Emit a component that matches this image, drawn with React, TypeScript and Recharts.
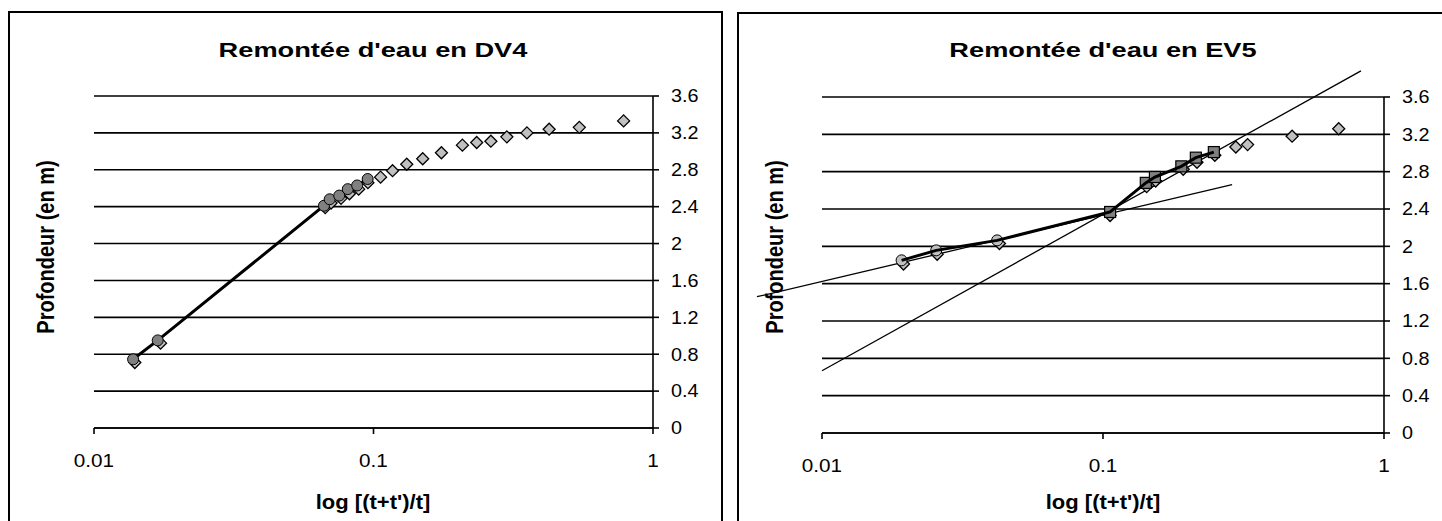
import React from 'react';
import { ScatterChart, Scatter, XAxis, YAxis, CartesianGrid, ReferenceLine } from 'recharts';

const FONT = '"Liberation Sans", Arial, sans-serif';

type Pt = [number, number];

// log [(t+t')/t] , profondeur (m)
const dv4Mesures: Pt[] = [
  [0.014, 0.71], [0.0173, 0.92],
  [0.0672, 2.39], [0.0705, 2.44], [0.0765, 2.49], [0.082, 2.54], [0.0885, 2.59], [0.0955, 2.66],
  [0.106, 2.72], [0.117, 2.79], [0.1315, 2.86], [0.15, 2.92], [0.175, 2.985], [0.208, 3.067],
  [0.234, 3.096], [0.263, 3.11], [0.3, 3.157], [0.354, 3.2], [0.425, 3.24], [0.545, 3.26], [0.785, 3.33],
];
const dv4Calcul: Pt[] = [
  [0.0138, 0.745], [0.0169, 0.95], [0.0665, 2.41], [0.0697, 2.48], [0.0754, 2.52],
  [0.0809, 2.59], [0.0874, 2.63], [0.0953, 2.7],
];

const ev5Mesures: Pt[] = [
  [0.0195, 1.81], [0.0257, 1.915], [0.0428, 2.03], [0.106, 2.33], [0.143, 2.64], [0.154, 2.7],
  [0.193, 2.825], [0.216, 2.9], [0.25, 2.975], [0.297, 3.064], [0.327, 3.09], [0.471, 3.18], [0.69, 3.26],
];
const ev5Debut: Pt[] = [[0.0192, 1.85], [0.0255, 1.957], [0.042, 2.064]];
const ev5Fin: Pt[] = [[0.106, 2.368], [0.142, 2.68], [0.153, 2.743], [0.19, 2.857], [0.214, 2.95], [0.248, 3.01]];
const ev5Droite1: Pt[] = [[0.00587, 1.46], [0.288, 2.66]];
const ev5Droite2: Pt[] = [[0.01, 0.667], [0.828, 3.88]];

const xTicks = [0.01, 0.1, 1];
const yTicks = [0, 0.4, 0.8, 1.2, 1.6, 2, 2.4, 2.8, 3.2, 3.6];

const toXY = (pts: Pt[]) => pts.map(([x, y]) => ({ x, y }));

const Losange = ({ cx, cy }: any) => (
  <polygon
    points={`${cx},${cy - 6} ${cx + 6},${cy} ${cx},${cy + 6} ${cx - 6},${cy}`}
    fill="#c0c0c0" stroke="#000" strokeWidth={1.3}
  />
);
const Rond = (fill: string) => ({ cx, cy }: any) => (
  <circle cx={cx} cy={cy} r={5.5} fill={fill} stroke="#000" strokeWidth={1} />
);
const Carre = ({ cx, cy }: any) => (
  <rect x={cx - 5.5} y={cy - 5.5} width={11} height={11} fill="#808080" stroke="#000" strokeWidth={1.2} />
);
const Rien = () => <g />;

// tick labels are drawn a little wider than the plain font
const stretch = (x: number, k: number) => `translate(${x} 0) scale(${k} 1) translate(${-x} 0)`;
const TickX = ({ x, y, payload }: any) => (
  <text x={x} y={y} dy="0.71em" textAnchor="middle" fontSize={18} fontFamily={FONT} fill="#000" transform={stretch(x, 1.15)}>
    {String(payload.value)}
  </text>
);
const TickY = ({ x, y, payload }: any) => (
  <text x={x} y={y} dy="0.355em" textAnchor="start" fontSize={18} fontFamily={FONT} fill="#000" transform={stretch(x, 1.1)}>
    {String(payload.value)}
  </text>
);

const text = (size: number): React.CSSProperties => ({
  position: 'absolute', fontFamily: FONT, fontWeight: 'bold', fontSize: size, whiteSpace: 'nowrap', color: '#000',
});

function Graph({ children, left, top, plot }: any) {
  // plot = [x0, y0, x1, y1] in chart coordinates
  const W = 710, H = 520;
  return (
    <div style={{ position: 'absolute', left, top }}>
      <ScatterChart width={W} height={H} margin={{ left: plot[0], top: plot[1], right: 0, bottom: H - plot[3] - 30 }}>
        <CartesianGrid vertical={false} stroke="#000" strokeWidth={1.6} />
        <XAxis type="number" dataKey="x" scale="log" domain={[0.01, 1]} allowDataOverflow ticks={xTicks} interval={0}
          tick={TickX} tickLine={{ stroke: '#000', strokeWidth: 1.6 }}
          axisLine={{ stroke: '#000', strokeWidth: 1.6 }} tickSize={6} tickMargin={20} height={30} />
        <YAxis type="number" dataKey="y" orientation="right" domain={[0, 3.6]} ticks={yTicks} interval={0}
          tick={TickY} tickLine={{ stroke: '#000', strokeWidth: 1.6 }} axisLine={{ stroke: '#000', strokeWidth: 1.6 }}
          tickSize={6} tickMargin={12} width={W - plot[2]} />
        {children}
      </ScatterChart>
    </div>
  );
}

export default function App() {
  return (
    <div style={{ position: 'absolute', left: 0, top: 0, width: 1442, height: 521, overflow: 'hidden', background: '#fff' }}>
      <div style={{ position: 'absolute', left: 8, top: 11, width: 715, height: 540, border: '2px solid #000', boxSizing: 'border-box' }} />
      <div style={{ position: 'absolute', left: 737, top: 12, width: 720, height: 540, border: '2px solid #000', boxSizing: 'border-box' }} />

      <Graph left={10} top={13} plot={[84, 83, 643, 415]}>
        <Scatter data={toXY(dv4Mesures)} shape={Losange} isAnimationActive={false} />
        <Scatter data={toXY(dv4Calcul)} shape={Rond('#808080')} line={{ stroke: '#000', strokeWidth: 3 }} isAnimationActive={false} />
      </Graph>

      <Graph left={739} top={14} plot={[83, 83, 645, 419]}>
        <ReferenceLine segment={toXY(ev5Droite1)} stroke="#000" strokeWidth={1.3} ifOverflow="visible" />
        <ReferenceLine segment={toXY(ev5Droite2)} stroke="#000" strokeWidth={1.3} ifOverflow="visible" />
        <Scatter data={toXY(ev5Mesures)} shape={Losange} isAnimationActive={false} />
        <Scatter data={toXY(ev5Debut)} shape={Rond('#c0c0c0')} isAnimationActive={false} />
        <Scatter data={toXY(ev5Fin)} shape={Carre} isAnimationActive={false} />
        <Scatter data={toXY([...ev5Debut, ...ev5Fin])} shape={Rien} line={{ stroke: '#000', strokeWidth: 3 }} isAnimationActive={false} />
      </Graph>

      <div style={{ ...text(20), left: 373, top: 50, transform: 'translate(-50%, -50%) scaleX(1.36)' }}>Remontée d'eau en DV4</div>
      <div style={{ ...text(20), left: 1103, top: 50, transform: 'translate(-50%, -50%) scaleX(1.36)' }}>Remontée d'eau en EV5</div>
      <div style={{ ...text(20), left: 46, top: 247, transform: 'translate(-50%, -50%) rotate(-90deg) scaleY(1.2)' }}>Profondeur (en m)</div>
      <div style={{ ...text(20), left: 775, top: 247, transform: 'translate(-50%, -50%) rotate(-90deg) scaleY(1.2)' }}>Profondeur (en m)</div>
      <div style={{ ...text(20), left: 373, top: 502, transform: 'translate(-50%, -50%) scaleX(1.1)' }}>log [(t+t')/t]</div>
      <div style={{ ...text(20), left: 1103, top: 502, transform: 'translate(-50%, -50%) scaleX(1.1)' }}>log [(t+t')/t]</div>
    </div>
  );
}
